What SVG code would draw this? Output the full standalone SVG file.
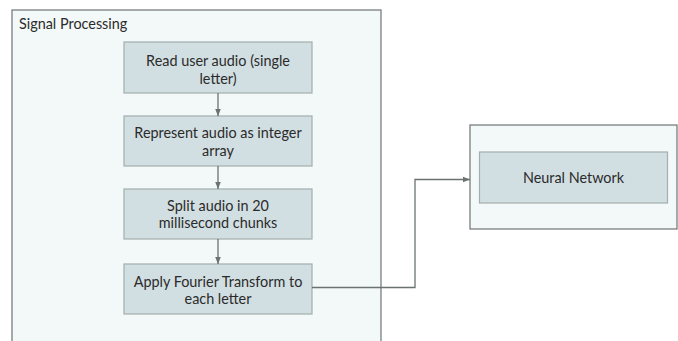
<svg xmlns="http://www.w3.org/2000/svg" width="678" height="341" viewBox="0 0 678 341">
  <style>
    .container { fill: #f3f8f8; stroke: #6e7575; stroke-width: 1.2; }
    .step { fill: #d2dfe2; stroke: #a3aeae; stroke-width: 1.2; }
    .label { font-family: Lato, "Liberation Sans", sans-serif; font-size: 14.4px; fill: #2b2b2b; text-anchor: middle; }
    .title { font-family: Lato, "Liberation Sans", sans-serif; font-size: 14.4px; fill: #2b2b2b; }
    .link { fill: none; stroke: #6a7272; stroke-width: 1.3; marker-end: url(#arrow); }
  </style>
  <defs>
    <marker id="arrow" viewBox="0 0 10 10" refX="10" refY="5" markerWidth="7" markerHeight="7" markerUnits="userSpaceOnUse" orient="auto">
      <path d="M0,1 L10,5 L0,9 z" fill="#6a7272"/>
    </marker>
  </defs>
  <rect width="678" height="341" fill="#ffffff"/>

  <g id="signal-processing">
    <rect class="container" x="12" y="10" width="369" height="340"/>
    <text class="title" x="19" y="29">Signal Processing</text>
  </g>

  <g id="read-audio">
    <rect class="step" x="124" y="42" width="188" height="51"/>
    <text class="label" x="218" y="66">Read user audio (single</text>
    <text class="label" x="218" y="84">letter)</text>
  </g>

  <g id="integer-array">
    <rect class="step" x="124" y="116" width="188" height="50"/>
    <text class="label" x="218" y="138">Represent audio as integer</text>
    <text class="label" x="218" y="155.5">array</text>
  </g>

  <g id="split-chunks">
    <rect class="step" x="124" y="189" width="188" height="50"/>
    <text class="label" x="218" y="211">Split audio in 20</text>
    <text class="label" x="218" y="228">millisecond chunks</text>
  </g>

  <g id="fourier">
    <rect class="step" x="124" y="264" width="188" height="50"/>
    <text class="label" x="218" y="287">Apply Fourier Transform to</text>
    <text class="label" x="218" y="303.5">each letter</text>
  </g>

  <g id="neural-network-group">
    <rect class="container" x="470" y="125" width="207" height="104"/>
  </g>

  <g id="neural-network">
    <rect class="step" x="479.5" y="152" width="188" height="51"/>
    <text class="label" x="573.5" y="183">Neural Network</text>
  </g>

  <g id="connectors">
    <path class="link" d="M218,93 V116"/>
    <path class="link" d="M218,166 V189"/>
    <path class="link" d="M218,239 V264"/>
    <path class="link" d="M312,287.5 H415 V179.5 H470"/>
  </g>
</svg>
